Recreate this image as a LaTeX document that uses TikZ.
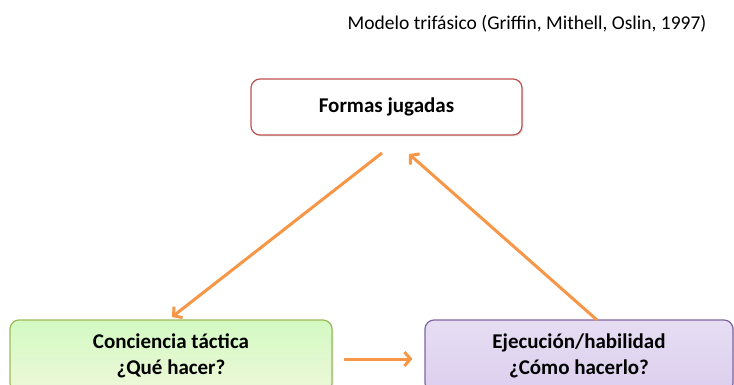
\documentclass[tikz,border=0pt]{standalone}
\usepackage{fontspec}
\setmainfont{Carlito}
\usetikzlibrary{arrows.meta,shadows}

\definecolor{boxred}{HTML}{C0504D}
\definecolor{boxgreen}{HTML}{9BBB59}
\definecolor{fillgreen}{HTML}{E2F3C0}
\definecolor{boxpurple}{HTML}{8064A2}
\definecolor{fillpurple}{HTML}{DCCFEE}
\definecolor{arroworange}{HTML}{F79646}

\begin{document}
\begin{tikzpicture}[x=1pt, y=-1pt,
  phase/.style={rounded corners=9pt, line width=1.2pt, align=center, font=\fontsize{21}{26}\selectfont\bfseries,
    drop shadow={opacity=0.2, shadow xshift=1.5pt, shadow yshift=-1.5pt}},
  flow/.style={arroworange, line width=3pt, -{Straight Barb[length=6pt,width=14pt]}}]
        \useasboundingbox (0,0) rectangle (734,385);
        \node (title) [anchor=east, font=\fontsize{19.5}{22}\selectfont] at (710,24) {Modelo trifásico (Griffin, Mithell, Oslin, 1997)};
        \node[phase, draw=boxred, fill=white, minimum width=271pt, minimum height=56pt] (formas) at (386.5,107) {Formas jugadas};
        \node[phase, draw=boxgreen, top color=fillgreen!80!green!60!white, bottom color=fillgreen!60!white, minimum width=322pt, minimum height=72pt] (tactica) at (171,356) {Conciencia táctica\\¿Qué hacer?};
        \node[phase, draw=boxpurple, top color=fillpurple!70!white, bottom color=fillpurple, minimum width=308pt, minimum height=72pt] (ejecucion) at (579,356) {Ejecución/habilidad\\¿Cómo hacerlo?};
        \coordinate (f1) at (382,153);
        \coordinate (f2) at (409,154);
        \coordinate (e1) at (597,320);
        \coordinate (t1) at (172,317);
        \draw[flow] (f1) -- (t1);
        \draw[flow] (e1) -- (f2);
        \draw[flow, shorten <=11pt, shorten >=12pt] (tactica.east |- 0,359) -- (ejecucion.west |- 0,359);
\end{tikzpicture}
\end{document}
